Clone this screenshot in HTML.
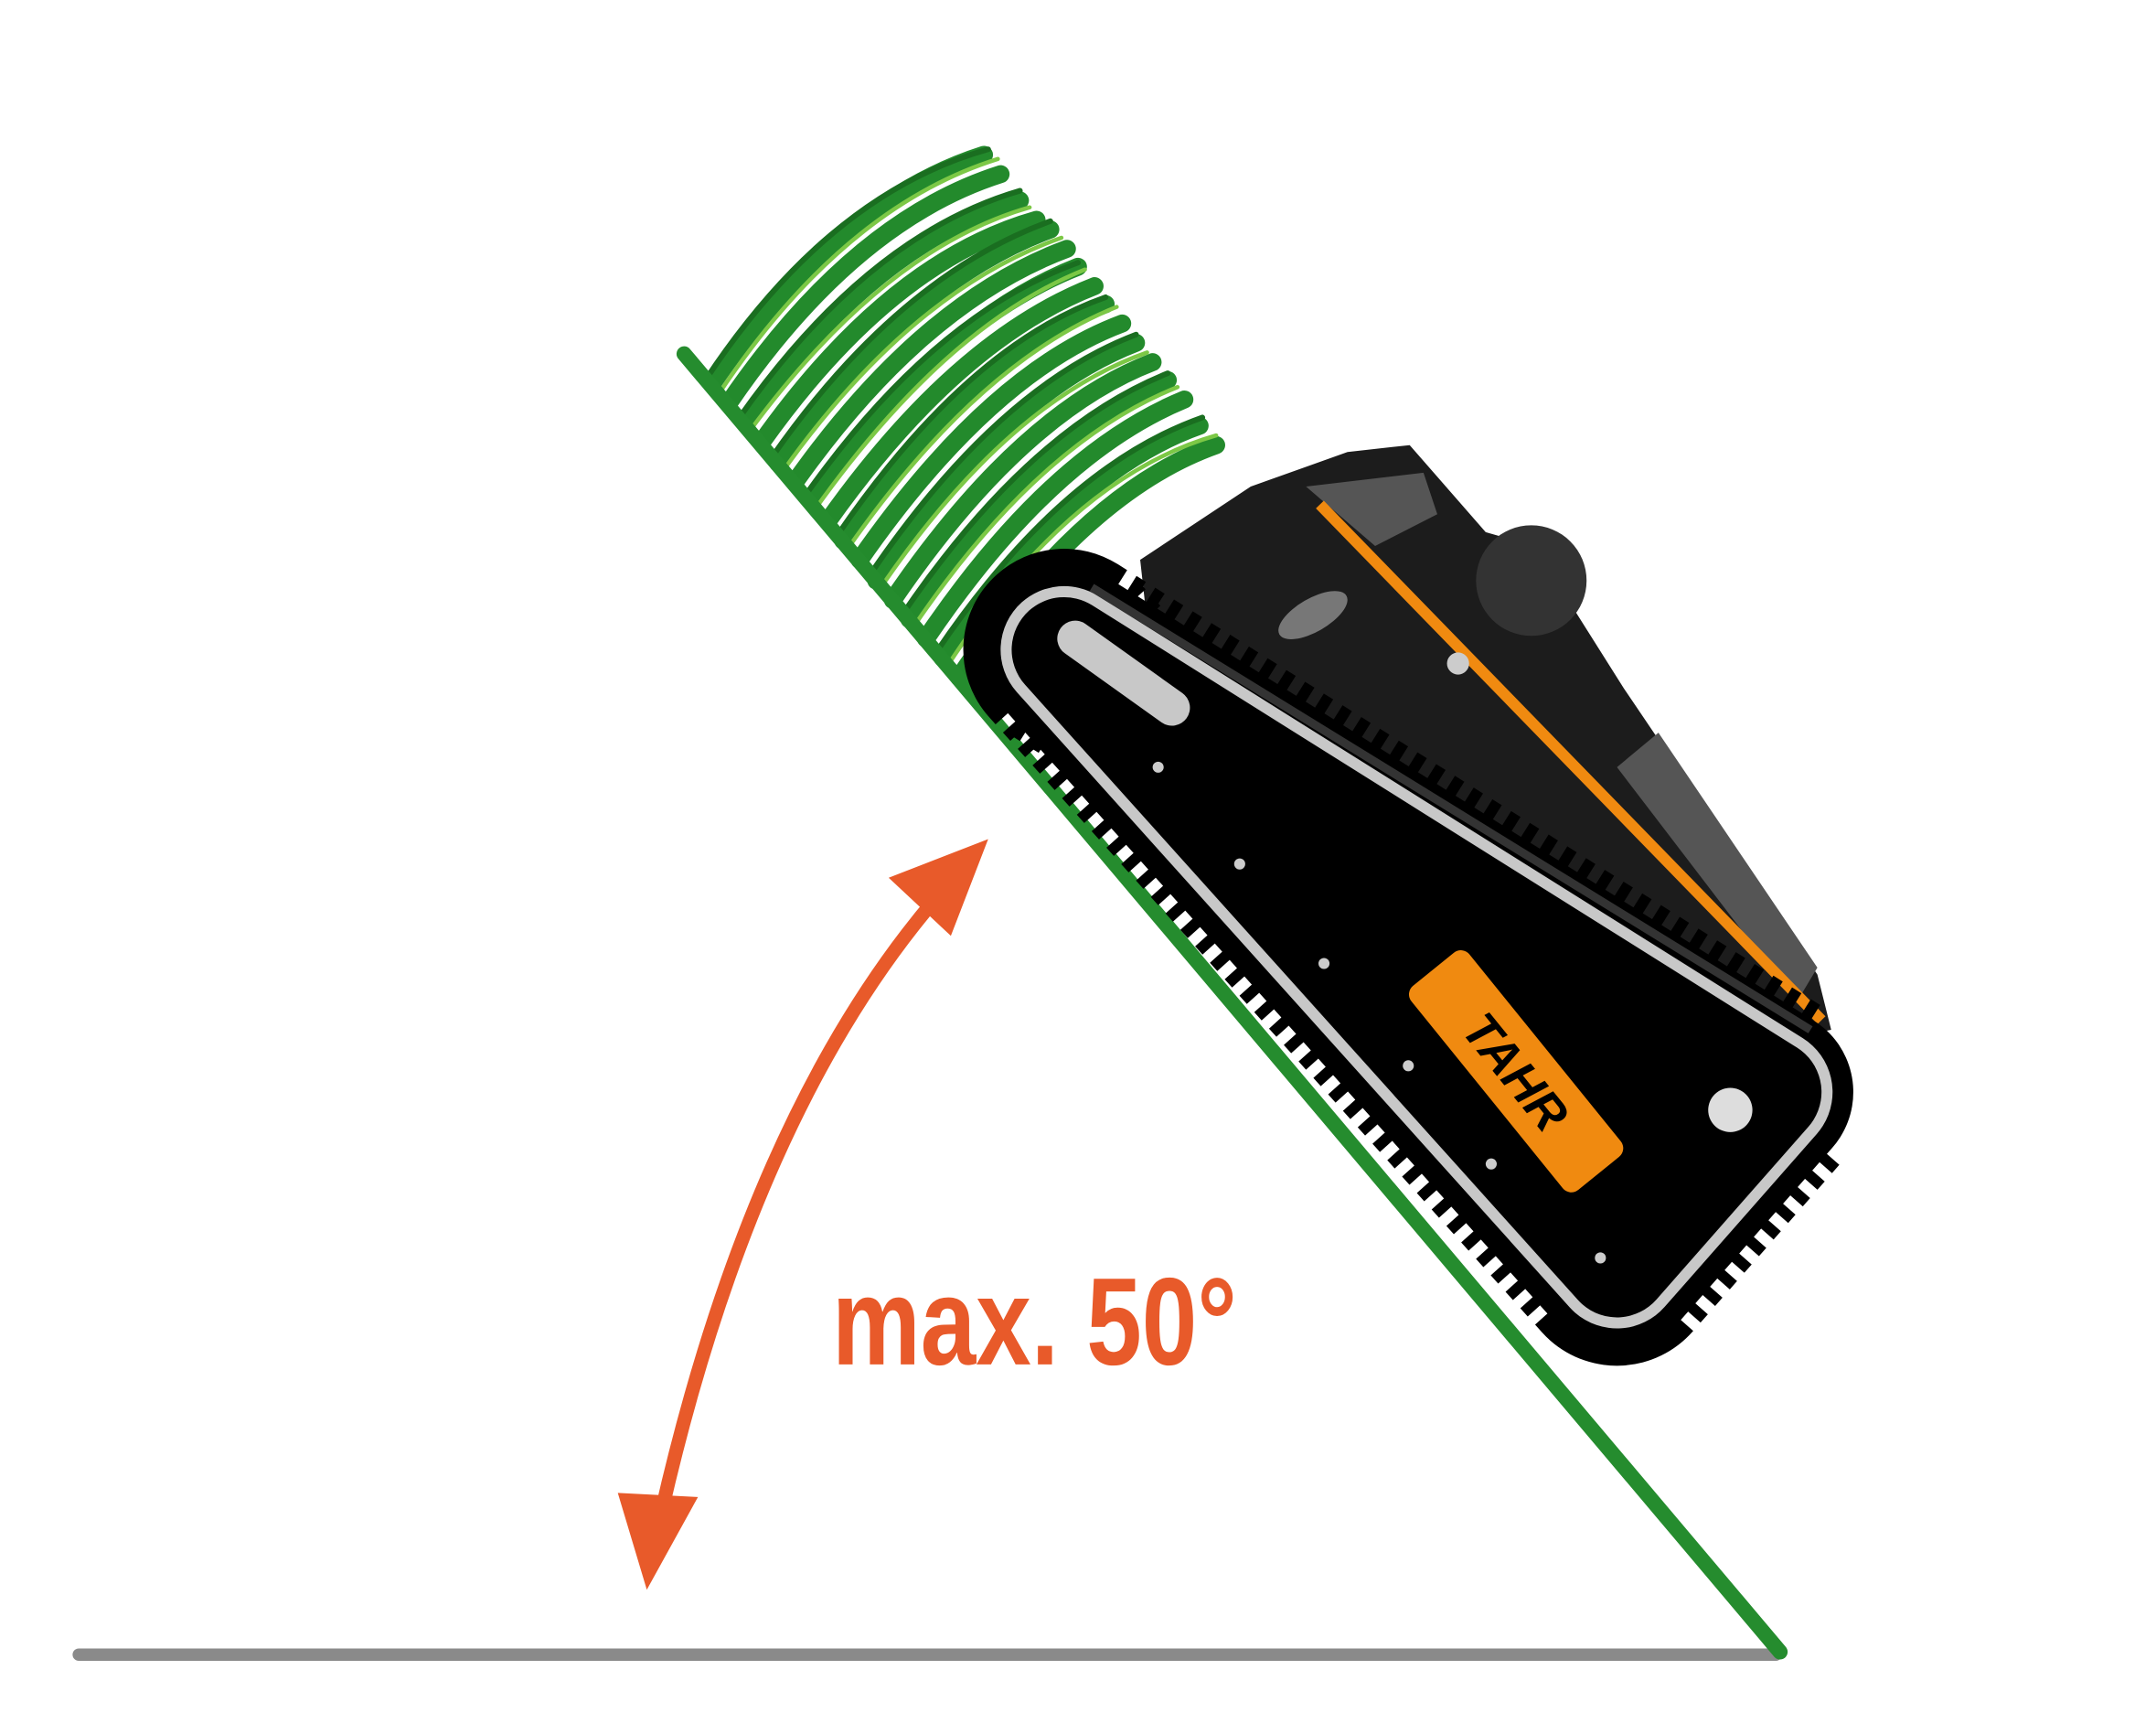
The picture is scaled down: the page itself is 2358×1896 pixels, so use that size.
<!DOCTYPE html>
<html><head><meta charset="utf-8"><style>
html,body{margin:0;padding:0;background:#fff;}
svg{display:block;}
</style></head><body>
<svg width="2358" height="1896" viewBox="0 0 1560 1254.4" xmlns="http://www.w3.org/2000/svg">
<rect width="1560" height="1254.4" fill="#fff"/>
<!-- ground -->
<line x1="57" y1="1197" x2="1285" y2="1197" stroke="#8a8a8a" stroke-width="9" stroke-linecap="round"/>
<!-- tall grass -->
<g fill="none" stroke-linecap="round">
<g id="gb" stroke="#238a2c" stroke-width="13">
<path d="M515,278 Q605,146 712,112"/><path d="M539,306 Q632,175 738,145"/><path d="M563,335 Q655,205 760,166"/><path d="M587,363 Q680,232 780,193"/>
<path d="M610,391 Q704,256 800,220"/><path d="M634,420 Q726,285 822,248"/><path d="M658,448 Q748,315 845,275"/><path d="M682,476 Q772,342 868,308"/>
</g>
<use href="#gb" transform="translate(12,14)"/>
<g stroke="#1a6e20" stroke-width="4">
<path d="M511,274 Q600,140 715,108"/><path d="M535,302 Q628,170 738,138"/><path d="M559,330 Q650,200 760,160"/><path d="M583,358 Q675,228 780,190"/>
<path d="M606,387 Q700,250 800,215"/><path d="M630,415 Q722,280 822,242"/><path d="M654,443 Q745,310 845,270"/><path d="M678,471 Q768,338 870,302"/>
</g>
<g stroke="#7cc846" stroke-width="3">
<path d="M520,285 Q610,150 722,115"/><path d="M543,311 Q640,180 745,150"/><path d="M567,340 Q660,210 768,172"/><path d="M590,368 Q685,235 785,195"/>
<path d="M614,396 Q708,262 808,222"/><path d="M638,424 Q730,290 830,255"/><path d="M662,452 Q752,320 852,280"/><path d="M686,481 Q775,345 880,315"/>
</g>
</g>
<!-- slope -->
<line x1="495" y1="256" x2="1288" y2="1195" stroke="#258c2e" stroke-width="11" stroke-linecap="round"/>
<!-- robot upper body -->
<polygon points="825,405 905,352 975,327 1020,322 1075,385 1110,395 1175,498 1315,705 1325,745 1250,760 830,450" fill="#1c1c1c"/>
<polygon points="945,352 1030,342 1040,372 995,395" fill="#555"/>
<polygon points="1170,555 1200,530 1315,700 1300,725" fill="#555"/>
<line x1="955" y1="365" x2="1318" y2="738" stroke="#f08a10" stroke-width="8"/>
<circle cx="1108" cy="420" r="40" fill="#333"/>
<!-- track teeth -->
<polygon points="770,470 1280,790 1170,915" fill="#000" stroke="#000" stroke-width="146" stroke-linejoin="round" stroke-dasharray="8 8"/>
<polygon points="770,470 1280,790 1170,915" fill="#000" stroke="#000" stroke-width="122" stroke-linejoin="round"/>
<polygon points="770,470 1280,790 1170,915" fill="#000" stroke="#c8c8c8" stroke-width="92" stroke-linejoin="round"/>
<polygon points="770,470 1280,790 1170,915" fill="#000" stroke="#000" stroke-width="76" stroke-linejoin="round"/>
<line x1="790" y1="425" x2="1310" y2="745" stroke="#333" stroke-width="6"/>
<line x1="778" y1="462" x2="848" y2="512" stroke="#c8c8c8" stroke-width="26" stroke-linecap="round"/>
<ellipse cx="950" cy="445" rx="28" ry="12" transform="rotate(-30 950 445)" fill="#777"/>
<circle cx="1252" cy="803" r="16" fill="#ddd"/>
<g fill="#ccc"><circle cx="838" cy="555" r="4"/><circle cx="897" cy="625" r="4"/><circle cx="958" cy="697" r="4"/><circle cx="1019" cy="771" r="4"/><circle cx="1079" cy="842" r="4"/><circle cx="1158" cy="910" r="4"/><circle cx="1055" cy="480" r="8"/></g>
<!-- TAHR plate -->
<g transform="translate(1097,775) rotate(51)">
<rect x="-95" y="-27" width="190" height="54" rx="8" fill="#f08a10"/>
<text x="0" y="13" text-anchor="middle" font-family="Liberation Sans, sans-serif" font-weight="bold" font-style="italic" font-size="36" fill="#000">TAHR</text>
</g>
<!-- arrow -->
<path d="M475 1110 Q545 790 695 630" fill="none" stroke="#e85a2a" stroke-width="10"/>
<polygon points="715,607 643,635 688,677" fill="#e85a2a"/>
<polygon points="468,1150 447,1080 505,1083" fill="#e85a2a"/>
<text x="602" y="987" font-family="Liberation Sans Narrow, Liberation Sans, sans-serif" font-weight="bold" font-size="90" fill="#e85a2a" textLength="293" lengthAdjust="spacingAndGlyphs">max. 50°</text>
</svg>
</body></html>
